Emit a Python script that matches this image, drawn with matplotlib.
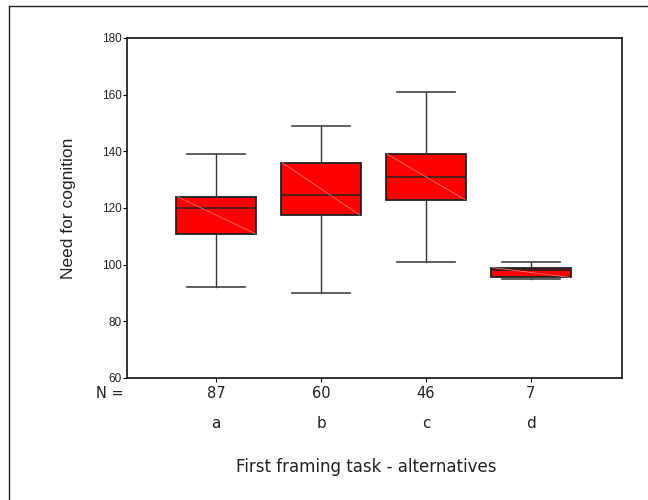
import matplotlib
matplotlib.use("Agg")
import matplotlib.pyplot as plt
from matplotlib.lines import Line2D

# box summary values
groups = ["a", "b", "c", "d"]
counts = [87, 60, 46, 7]
whislo = [92, 90, 101, 95]
q1 = [111, 117.5, 123, 95.5]
med = [120, 124.5, 131, 98]
q3 = [124, 136, 139, 99]
whishi = [139, 149, 161, 101]

yticks = [60, 80, 100, 120, 140, 160, 180]

fig = plt.figure(figsize=(6.48, 5.0), dpi=100)
ax = fig.add_axes([127/648, 1 - 378/500, 495/648, 340/500])

stats = []
for i in range(len(groups)):
    stats.append({"whislo": whislo[i], "q1": q1[i], "med": med[i],
                  "q3": q3[i], "whishi": whishi[i], "fliers": []})

pos = list(range(1, len(groups) + 1))
ax.bxp(stats, positions=pos, widths=0.76, patch_artist=True,
       showfliers=False, capwidths=0.55,
       boxprops=dict(facecolor="#ff0000", edgecolor="#222222", linewidth=1.3),
       medianprops=dict(color="#222222", linewidth=1.1),
       whiskerprops=dict(color="#333333", linewidth=1.0),
       capprops=dict(color="#444444", linewidth=1.2))

# faint diagonal across each box (SPSS style)
for i, p in enumerate(pos):
    ax.plot([p - 0.37, p + 0.37], [q3[i], q1[i]], color="#ff8c8c",
            linewidth=0.5, zorder=3)

ax.set_xlim(0.15, 4.87)
ax.set_ylim(60, 180)
ax.set_yticks(yticks)
ax.set_yticklabels([str(t) for t in yticks], fontsize=8.5,
                   family="Liberation Sans", color="#222222")
ax.tick_params(axis="y", length=3, width=0.8, pad=1)
ax.set_xticks(pos)
ax.set_xticklabels([str(c) for c in counts], fontsize=10.5,
                   family="DejaVu Sans", color="#222222")
ax.tick_params(axis="x", length=3, width=0.8, pad=3)
for s in ax.spines.values():
    s.set_linewidth(1.2)
    s.set_color("#111111")

ax.set_ylabel("Need for cognition", fontsize=12.5, family="Liberation Sans",
              color="#222222")
ax.yaxis.set_label_coords(-0.103, 0.5)

fig.text(110/648, 1 - 394/500, "N =", fontsize=10.5, ha="center",
         va="center", color="#222222")
for i, g in enumerate(groups):
    ax.annotate(g, xy=(pos[i], 0), xycoords=("data", "figure fraction"),
                xytext=(0, 1 - 423/500), textcoords=("offset points", "figure fraction"),
                ha="center", va="center", fontsize=11, color="#222222")

fig.text(366/648, 1 - 467/500, "First framing task - alternatives",
         fontsize=12, ha="center", va="center", color="#222222")

# outer frame (left and top edges visible)
fig.add_artist(Line2D([9/648, 9/648], [0, 1 - 6/500], color="#222222",
                      linewidth=1.0, transform=fig.transFigure))
fig.add_artist(Line2D([9/648, 1], [1 - 6/500, 1 - 6/500], color="#222222",
                      linewidth=1.0, transform=fig.transFigure))

fig.savefig("out.png", dpi=100)
